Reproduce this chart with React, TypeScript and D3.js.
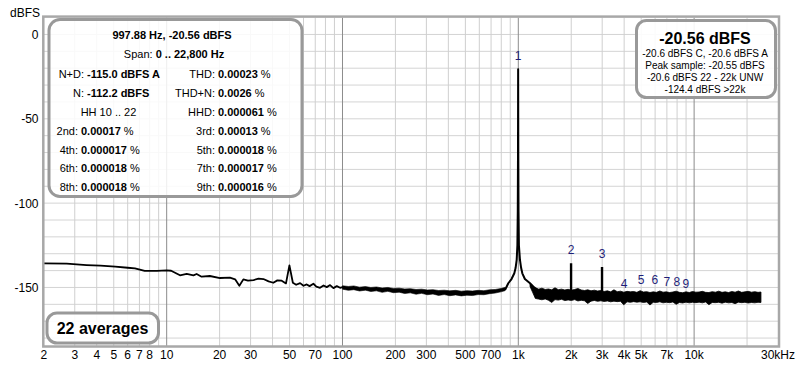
import React from "react";
import * as d3 from "d3";

// low-frequency trace, 2 Hz .. ~100 Hz
const lowFreq = [2, 2.7, 3.5, 4.2, 5.1, 6.0, 6.6, 7.5, 8.8, 10, 10.6, 11.9, 13, 14.2, 14.8, 15.8, 17.6, 20.1, 22.9, 24.5, 25.9, 27.3, 29, 31.2, 33.3, 35.5, 38, 40.4, 42.6, 45.1, 47.7, 49.9, 52.2, 54.5, 57.4, 60, 62.6, 65, 68.3, 71, 74.5, 78, 81.4, 85, 88.8, 92.8, 96.9, 101];
const lowDb = [-135.7, -135.9, -136.7, -137.1, -137.7, -138.3, -138.7, -140.2, -140.2, -139.9, -140.1, -142.8, -142.0, -142.8, -142.0, -143.6, -143.2, -144.4, -144.2, -145.2, -149.0, -145.2, -145.9, -145.6, -144.8, -145.0, -146.4, -147.2, -145.8, -146.0, -147.6, -136.9, -147.2, -148.4, -147.4, -149.0, -148.2, -149.2, -147.8, -149.5, -150.2, -148.8, -149.8, -148.6, -150.4, -149.2, -150.2, -149.6];

// noise floor band 100 Hz .. 840 Hz (upper / lower edge)
const floorFreq = [100, 108, 116, 125, 135, 145, 156, 168, 181, 195, 210, 226, 243, 262, 282, 304, 327, 352, 379, 408, 440, 474, 510, 549, 591, 637, 686, 739, 796, 840];
const floorHi = [-149.0, -149.4, -149.1, -149.8, -149.5, -150.0, -149.7, -150.3, -150.0, -150.6, -150.4, -150.9, -150.7, -151.2, -151.0, -151.5, -151.3, -151.8, -151.6, -152.0, -151.7, -152.2, -151.9, -152.1, -151.7, -151.9, -151.4, -151.2, -150.6, -150.0];
const floorLo = [-151.0, -151.7, -151.3, -152.1, -151.6, -152.4, -152.0, -152.9, -152.3, -153.1, -152.8, -153.6, -153.2, -154.0, -153.5, -154.3, -153.9, -154.7, -154.2, -154.9, -154.4, -155.0, -154.6, -154.8, -154.2, -154.3, -153.7, -153.3, -152.6, -151.9];

// fundamental with its skirt
const peakFreq = [840, 877, 915, 949, 965, 979, 988, 993, 996, 997.88, 1000, 1003, 1008, 1022, 1038, 1054, 1090, 1166, 1230, 1300];
const peakDb = [-151.5, -147.5, -145, -141.6, -138.5, -133.7, -125, -105, -70, -20.56, -70, -105, -125, -133.7, -138.5, -141.6, -145, -147.5, -150, -151.5];

// noise floor band 1.17 kHz .. 24 kHz
const hfFreq = [1166, 1210, 1250, 1305, 1362, 1422, 1484, 1549, 1617, 1688, 1762, 1839, 1920, 2004, 2092, 2183, 2279, 2379, 2483, 2592, 2706, 2824, 2948, 3077, 3212, 3353, 3500, 3653, 3813, 3980, 4155, 4337, 4527, 4725, 4932, 5148, 5374, 5609, 5855, 6112, 6379, 6659, 6951, 7255, 7573, 7905, 8252, 8613, 8991, 9385, 9796, 10225, 10673, 11141, 11629, 12139, 12671, 13226, 13806, 14411, 15042, 15702, 16390, 17108, 17858, 18641, 19458, 20311, 21201, 22130, 23100, 24000];
const hfHi = [
  -147.6, -149.0,
  -150.6, -151.0, -150.4, -151.2, -150.9, -151.4, -150.2, -151.3, -151.0, -151.5,
  -151.1, -151.6, -151.2, -150.6, -151.5, -151.8, -151.4, -152.0, -151.6, -152.1,
  -151.8, -152.4, -152.0, -152.6, -151.4, -152.5, -152.2, -152.8, -152.3, -152.6,
  -152.4, -152.9, -151.9, -152.7, -152.5, -153.0, -152.6, -152.9, -152.1, -152.8,
  -152.6, -153.0, -152.7, -152.2, -152.9, -153.1, -152.6, -153.0, -152.4, -152.8,
  -152.7, -152.3, -152.9, -153.0, -152.5, -152.8, -152.2, -152.9, -152.6, -153.0,
  -152.4, -152.8, -152.1, -152.9, -152.6, -152.3, -152.8, -152.5, -152.9, -152.7,
];
const hfLo = [
  -149.4, -153.2,
  -156.5, -156.9, -157.3, -156.8, -157.6, -158.9, -157.2, -157.5, -157.0, -157.8,
  -157.4, -157.7, -157.2, -158.0, -157.6, -157.9, -159.5, -158.1, -157.7, -158.2,
  -157.9, -158.3, -158.0, -158.5, -158.1, -158.4, -158.2, -160.3, -158.5, -158.8,
  -158.4, -158.7, -158.5, -158.9, -158.6, -160.4, -158.8, -158.9, -158.5, -159.1,
  -158.8, -159.0, -158.6, -160.0, -158.9, -159.2, -158.7, -159.1, -158.8, -159.0,
  -158.7, -159.1, -158.6, -160.2, -158.9, -159.0, -158.8, -159.3, -158.7, -159.1,
  -158.9, -159.6, -158.7, -159.0, -158.8, -159.2, -158.9, -159.1, -158.8, -158.9,
];

// harmonics 1..9 of 997.88 Hz
const fundamental = 997.88;
const harmonicNo = [1, 2, 3, 4, 5, 6, 7, 8, 9];
const harmonicDb = [-20.56, -135.7, -137.9, -155.5, -153.3, -153.3, -154.7, -154.7, -155.5];

// axes
const xTicks = [2, 3, 4, 5, 6, 7, 8, 10, 20, 30, 50, 70, 100, 200, 300, 500, 700, 1000, 2000, 3000, 4000, 5000, 7000, 10000, 30000];
const xTickLabels = ["2", "3", "4", "5", "6", "7", "8", "10", "20", "30", "50", "70", "100", "200", "300", "500", "700", "1k", "2k", "3k", "4k", "5k", "7k", "10k", "30kHz"];
const yTicks = [0, -50, -100, -150];

// info box rows: [left label, left value, left unit, right label, right value, right unit]
const infoRows = [
  ["N+D:", "-115.0 dBFS A", "", "THD:", "0.00023", " %"],
  ["N:", "-112.2 dBFS", "", "THD+N:", "0.0026", " %"],
  ["HH 10 .. 22", "", "", "HHD:", "0.000061", " %"],
  ["2nd:", "0.00017", " %", "3rd:", "0.00013", " %"],
  ["4th:", "0.000017", " %", "5th:", "0.000018", " %"],
  ["6th:", "0.000018", " %", "7th:", "0.000017", " %"],
  ["8th:", "0.000018", " %", "9th:", "0.000016", " %"],
];
const levelLines = [
  "-20.6 dBFS C, -20.6 dBFS A",
  "Peak sample: -20.55 dBFS",
  "-20.6 dBFS 22 - 22k UNW",
  "-124.4 dBFS >22k",
];

const FONT = "'Liberation Sans', Arial, sans-serif";

export default function App() {
  const x = d3.scaleLog().domain([2, 30000]).range([43.8, 778]);
  const y = d3.scaleLinear().domain([-185, 10]).range([346.5, 17.6]);
  const [x0, x1] = x.range();
  const [y0, y1] = [y(-185), y(10)];

  const gridFreqs: number[] = [];
  [1, 10, 100, 1000, 10000].forEach((dec) => {
    for (let m = 1; m <= 9; m++) {
      const f = dec * m;
      if (f > 2 && f < 30000) gridFreqs.push(f);
    }
  });
  const gridDb = d3.range(-180, 10, 10);

  const line = d3
    .line<number>()
    .x((d, i) => x(lowFreq[i]))
    .y((d) => y(d));
  const peakLine = d3
    .line<number>()
    .x((d, i) => x(peakFreq[i]))
    .y((d) => y(d));
  const floorArea = d3
    .area<number>()
    .x((d, i) => x(floorFreq[i]))
    .y0((d, i) => y(floorLo[i]))
    .y1((d) => y(d));
  const hfArea = d3
    .area<number>()
    .x((d, i) => x(hfFreq[i]))
    .y0((d, i) => y(hfLo[i]))
    .y1((d) => y(d));

  const rowY = [78, 97, 116, 135, 153.5, 172, 190.5];

  return (
    <svg
      width={800}
      height={370}
      style={{ position: "absolute", left: 0, top: 0, background: "#fff" }}
      fontFamily={FONT}
    >
      <defs>
        <clipPath id="plot">
          <rect x={x0} y={y1} width={x1 - x0} height={y0 - y1} />
        </clipPath>
      </defs>
      <rect x={x0} y={y1} width={x1 - x0} height={y0 - y1} fill="#fff" />
      {/* grid */}
      {gridDb.map((d) => (
        <line key={"h" + d} x1={x0} x2={x1} y1={y(d)} y2={y(d)} stroke="#d4d4d4" strokeWidth={1} />
      ))}
      {gridFreqs.map((f) => {
        const decade = [10, 100, 1000, 10000].includes(f);
        return (
          <line
            key={"v" + f}
            x1={x(f)}
            x2={x(f)}
            y1={y1}
            y2={y0}
            stroke={decade ? "#8c8c8c" : "#cfcfcf"}
            strokeWidth={1}
          />
        );
      })}

      {/* spectrum */}
      <g clipPath="url(#plot)">
        <path d={line(lowDb) || ""} fill="none" stroke="#000" strokeWidth={1.8} strokeLinejoin="round" />
        <path d={floorArea(floorHi) || ""} fill="#000" stroke="#000" strokeWidth={0.6} />
        <path d={hfArea(hfHi) || ""} fill="#000" stroke="#000" strokeWidth={0.8} />
        <path d={peakLine(peakDb) || ""} fill="none" stroke="#000" strokeWidth={2} strokeLinejoin="round" />
        {harmonicNo.slice(1).map((n, i) =>
          harmonicDb[i + 1] > -152 ? (
            <line
              key={"s" + n}
              x1={x(n * fundamental)}
              x2={x(n * fundamental)}
              y1={y(-153)}
              y2={y(harmonicDb[i + 1])}
              stroke="#000"
              strokeWidth={2.4}
            />
          ) : null
        )}
      </g>
      {harmonicNo.map((n, i) => (
        <text
          key={"hl" + n}
          x={x(n * fundamental)}
          y={y(harmonicDb[i]) - 9}
          textAnchor="middle"
          fontSize={12}
          fill="#1e1e78"
        >
          {n}
        </text>
      ))}

      {/* frame */}
      <rect x={x0 - 0.5} y={y1 - 1} width={x1 - x0 + 1.5} height={y0 - y1 + 1} fill="none" stroke="#a8a8a8" strokeWidth={2.5} />

      {/* axes labels */}
      <text x={10} y={17} fontSize={12} fill="#000">dBFS</text>
      {yTicks.map((t) => (
        <text key={"yt" + t} x={38.5} y={y(t) + 4.5} fontSize={12} textAnchor="end" fill="#000">
          {t}
        </text>
      ))}
      {xTicks.map((t, i) => (
        <text key={"xt" + t} x={x(t)} y={359} fontSize={12} textAnchor="middle" fill="#000">
          {xTickLabels[i]}
        </text>
      ))}

      {/* info box */}
      <rect x={49} y={19.5} width={253} height={177} rx={11} fill="#fff" fillOpacity={0.86} stroke="#999" strokeWidth={3} />
      <text x={172} y={38.5} fontSize={11} fontWeight="bold" textAnchor="middle">
        997.88 Hz, -20.56 dBFS
      </text>
      <text x={174} y={57.5} fontSize={11} textAnchor="middle">
        Span: <tspan fontWeight="bold">0 .. 22,800 Hz</tspan>
      </text>
      {infoRows.map((r, i) => {
        const leftEnd = i < 2 ? 84 : 78;
        return (
          <g key={"row" + i} fontSize={11}>
            {i === 2 ? (
              <text x={108.5} y={rowY[i]} textAnchor="middle">{r[0]}</text>
            ) : (
              <>
                <text x={leftEnd} y={rowY[i]} textAnchor="end">{r[0]}</text>
                <text x={leftEnd + 3} y={rowY[i]}>
                  <tspan fontWeight="bold">{r[1]}</tspan>
                  {r[2]}
                </text>
              </>
            )}
            <text x={215} y={rowY[i]} textAnchor="end">{r[3]}</text>
            <text x={218} y={rowY[i]}>
              <tspan fontWeight="bold">{r[4]}</tspan>
              {r[5]}
            </text>
          </g>
        );
      })}

      {/* level box */}
      <rect x={636.5} y={20.5} width={139} height={77} rx={10} fill="#fff" fillOpacity={0.9} stroke="#999" strokeWidth={3} />
      <text x={705} y={43.5} fontSize={16} fontWeight="bold" textAnchor="middle">
        -20.56 dBFS
      </text>
      {levelLines.map((s, i) => (
        <text key={"ll" + i} x={705} y={57 + i * 11.9} fontSize={10} textAnchor="middle">
          {s}
        </text>
      ))}

      {/* averages box */}
      <rect x={47} y={313} width={111.5} height={30} rx={10} fill="#fff" fillOpacity={0.9} stroke="#999" strokeWidth={3} />
      <text x={102.5} y={334} fontSize={16} fontWeight="bold" textAnchor="middle">
        22 averages
      </text>
    </svg>
  );
}
